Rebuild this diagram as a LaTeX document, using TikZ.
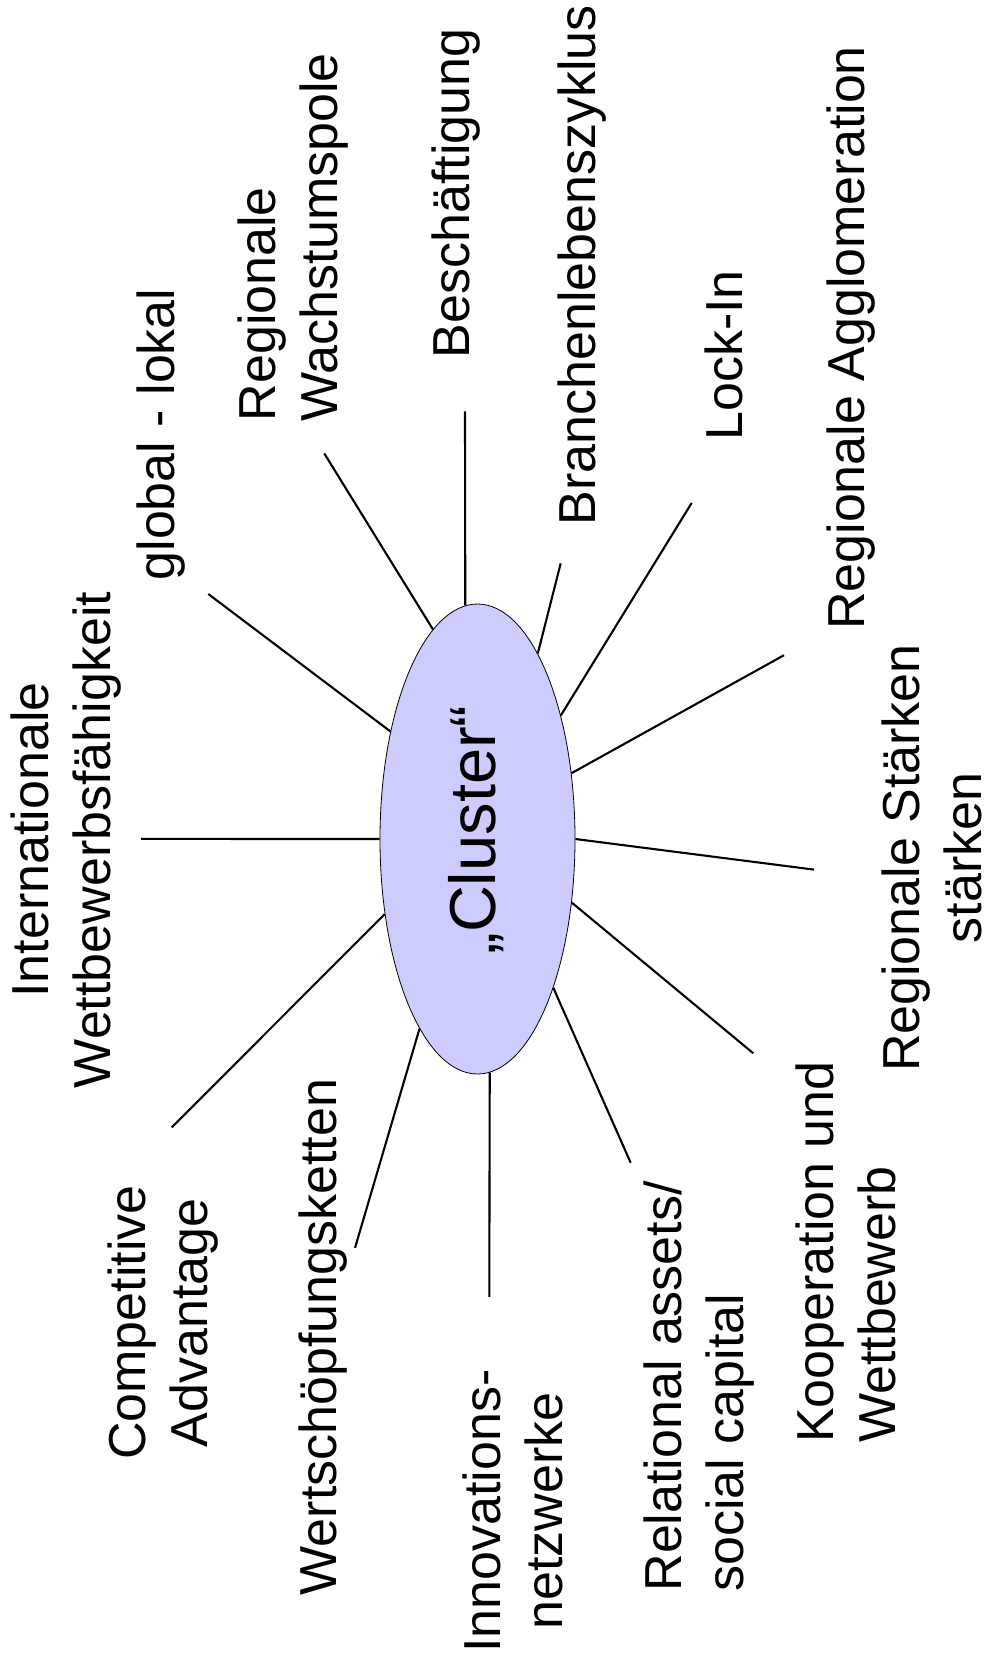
\documentclass[tikz,border=0pt]{standalone}
\usepackage{fontspec}
\setmainfont{Liberation Sans}
\usetikzlibrary{shapes.geometric}
\definecolor{clfill}{RGB}{204,204,255}
\begin{document}
\begin{tikzpicture}[x=1pt,y=-1pt,
  lbl/.style={rotate=90, inner sep=0pt, font=\fontsize{52}{62}\selectfont},
  spoke/.style={line width=2.1pt, black}]
\useasboundingbox (0,0) rectangle (991,1663);
\node[ellipse, draw=black, line width=0.8pt, fill=clfill, minimum width=195pt, minimum height=470pt, inner sep=0pt] (cl) at (477.5,839) {};
\node[rotate=90, inner sep=0pt, font=\fontsize{65}{78}\selectfont] (ct) at (476.5,830) {„Cluster“};

\node[lbl, align=center] (intl) at (66,840) {Internationale\\Wettbewerbsfähigkeit};
\node[lbl] (glob) at (161,434.4) {global - lokal};
\node[lbl, align=left] (wachs) at (292.7,237.3) {Regionale\\Wachstumspole};
\node[lbl] (besch) at (455.8,193.3) {Beschäftigung};
\node[lbl] (branch) at (582,265.3) {Branchenlebenszyklus};
\node[lbl] (lock) at (724,355.5) {Lock-In};
\node[lbl] (aggl) at (851.5,337.9) {Regionale Agglomeration};
\node[lbl, align=center] (staerk) at (932,858) {Regionale Stärken\\stärken};
\node[lbl, align=left] (koop) at (845.5,1252) {Kooperation und\\Wettbewerb};
\node[lbl, align=left] (rel) at (699.4,1386.3) {Relational assets/\\social capital};
\node[lbl, align=center] (innov) at (513.3,1511) {Innovations-\\netzwerke};
\node[lbl] (wert) at (323,1337) {Wertschöpfungsketten};
\node[lbl, align=center] (comp) at (162.7,1322.7) {Competitive\\Advantage};

\coordinate (e1) at (141,838.9);
\coordinate (e2) at (208.3,594);
\coordinate (e3) at (324.3,453.5);
\coordinate (e4) at (465,411.4);
\coordinate (e5) at (560.7,563.4);
\coordinate (e6) at (691.7,502.9);
\coordinate (e7) at (784,655.2);
\coordinate (e8) at (814,869.6);
\coordinate (e9) at (753.3,1053.3);
\coordinate (e10) at (630.7,1162.8);
\coordinate (e11) at (489.3,1296.8);
\coordinate (e12) at (355,1247.9);
\coordinate (e13) at (171.7,1127.4);

\draw[spoke] (e1) -- (cl.180);
\draw[spoke] (e2) -- (cl.129.5);
\draw[spoke] (e3) -- (cl.102.4);
\draw[spoke] (e4) -- (cl.93.1);
\draw[spoke] (e5) -- (cl.72.8);
\draw[spoke] (e6) -- (cl.56.4);
\draw[spoke] (e7) -- (cl.35.7);
\draw[spoke] (e8) -- (cl.0);
\draw[spoke] (e9) -- (cl.-34.6);
\draw[spoke] (e10) -- (cl.-63.8);
\draw[spoke] (e11) -- (cl.-87.1);
\draw[spoke] (e12) -- (cl.-107.4);
\draw[spoke] (e13) -- (cl.-141.1);
\end{tikzpicture}
\end{document}
